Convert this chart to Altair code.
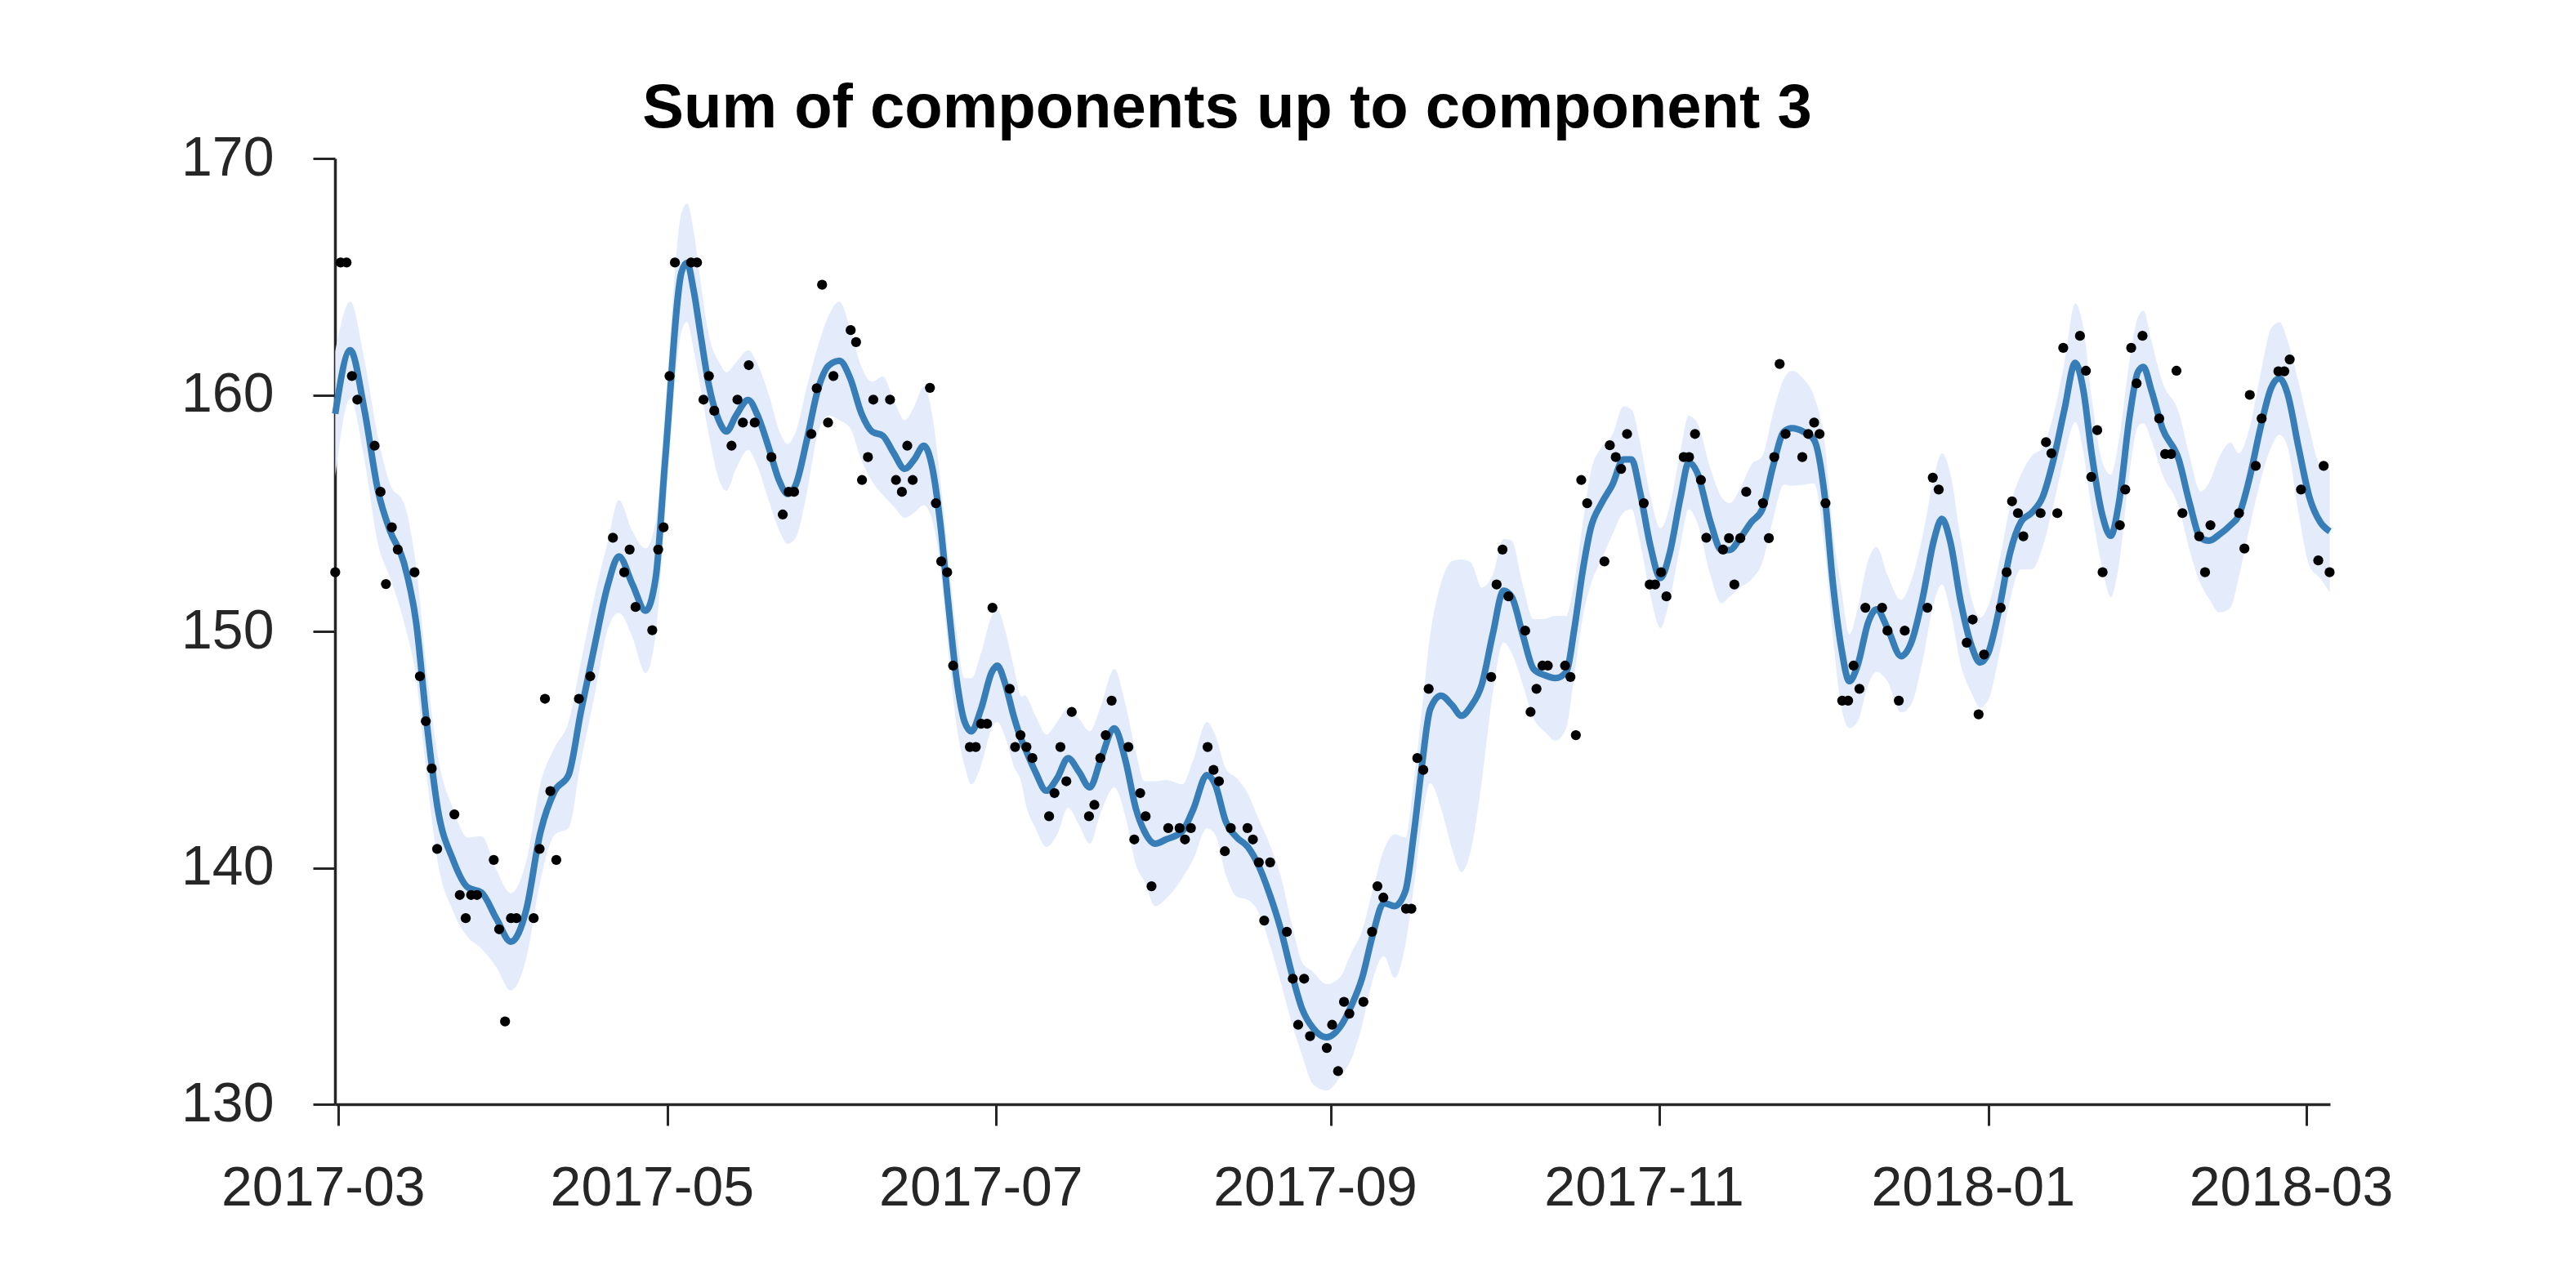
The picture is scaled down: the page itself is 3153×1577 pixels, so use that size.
import altair as alt
import numpy as np
import pandas as pd

BASE = pd.Timestamp("2017-03-01")

# Observations: day offset from 2017-03-01, value
pt_day = [-0.6, 0.4, 1.5, 2.5, 3.5, 6.7, 7.8, 8.8, 9.9, 11.0, 14.1, 15.1, 16.2, 17.3, 18.3,
          21.5, 22.5, 23.6, 24.6, 25.7, 28.8, 29.8, 30.9, 32.0, 33.0, 36.2, 37.3, 38.3, 39.3, 40.4,
          44.6, 46.7, 50.9, 53.0, 54.0, 55.1, 58.2, 59.3, 60.3, 61.4, 62.4,
          65.4, 66.5, 67.7, 68.7, 69.7, 72.9, 74.0, 75.0, 76.1, 77.2, 80.3, 82.4, 83.5, 84.5,
          87.7, 88.7, 89.7, 90.8, 91.8, 95.0, 96.0, 97.1, 98.2, 99.2, 102.3, 103.4, 104.5, 105.5,
          106.5, 109.7, 110.8, 111.8, 112.9, 114.0, 117.1, 118.2, 119.2, 120.3, 121.3, 124.5,
          125.5, 126.5,
          127.6, 128.7, 131.8, 132.8, 133.9, 135.0, 136.0, 139.2, 140.2, 141.3, 142.3, 143.4,
          146.5, 147.6, 148.7, 149.7, 150.8, 153.9, 156.0, 157.0, 158.1, 161.2, 162.3, 163.3,
          164.4, 165.5, 168.6, 169.6, 170.7, 171.7, 172.8, 175.9, 177.0, 178.0, 179.1, 180.2,
          183.3, 184.3, 185.4, 186.5, 187.5, 190.1,
          191.7, 192.7, 193.8, 198.0, 199.0, 200.1, 201.2, 202.2, 213.8, 214.8, 215.9, 217.0,
          220.1, 221.1, 222.2, 223.3, 224.3, 227.5, 228.5, 229.5, 230.5, 231.6, 234.8, 235.8,
          236.9, 237.9, 239.0, 242.1, 243.2, 244.2, 245.3, 246.3, 249.5, 250.5, 251.6, 252.7,
          253.7,
          256.8, 257.9, 258.9, 260.0, 261.1, 264.2, 265.3, 266.3, 267.3, 268.4, 271.5, 272.6,
          273.7, 274.7, 275.8, 278.9, 280.0, 281.0, 282.1, 283.2, 286.3, 287.3, 289.4, 290.5,
          294.7, 295.7, 296.8, 302.0, 303.1, 304.2, 305.2, 308.3, 309.4, 310.4, 311.5, 312.5,
          315.7, 316.7,
          317.7, 318.8, 319.9, 323.0, 324.1, 325.1, 326.2, 327.2, 330.4, 331.4, 332.5, 333.5,
          334.6, 337.7, 338.8, 339.9, 340.9, 342.0, 345.1, 346.2, 347.2, 352.5, 353.5, 354.5,
          355.6, 356.7, 359.8, 360.9, 361.9, 364.0, 367.2, 368.2, 369.3]
pt_val = [152.5, 165.6, 165.6, 160.8, 159.8, 157.85, 155.9, 152.0, 154.4, 153.46, 152.5, 148.1,
          146.2, 144.2, 140.8,
          142.26, 138.85, 137.87, 138.85, 138.85, 140.33, 137.4, 133.5, 137.87, 137.87, 137.87,
          140.8, 147.15, 143.24, 140.33,
          147.15, 148.1, 153.96, 152.5, 153.46, 151.03, 150.05, 153.46, 154.4, 160.8, 165.6,
          165.6, 165.6, 159.8, 160.8, 159.33, 157.85, 159.8, 158.83, 161.26, 158.83, 157.37,
          154.94, 155.9, 155.9,
          158.35, 160.28, 164.66, 158.83, 160.8, 162.74, 162.23, 156.4, 157.37, 159.8, 159.8,
          156.4, 155.9, 157.85,
          156.4, 160.3, 155.42, 152.96, 152.5, 148.55, 145.11, 145.11, 146.09, 146.09, 151.0,
          147.57, 145.11, 145.61,
          145.11, 144.64, 142.18, 143.16, 145.11, 143.66, 146.59, 142.18, 142.66, 144.64, 145.61,
          147.07,
          145.11, 141.2, 143.16, 142.18, 139.22, 141.68, 141.68, 141.2, 141.68, 145.11, 144.14,
          143.66,
          140.7, 141.68, 141.68, 141.2, 140.23, 137.77, 140.23, 137.29, 135.31, 133.36, 135.31,
          132.88,
          132.38, 133.36, 131.4, 134.33, 133.83, 134.33,
          137.29, 139.22, 138.74, 138.27, 138.27, 144.64, 144.14, 147.57, 148.07, 151.98, 153.46,
          151.48,
          150.03, 146.59, 147.57, 148.55, 148.55, 148.55, 148.07, 145.61, 156.4, 155.42, 152.96,
          157.87,
          157.37, 156.87, 158.35, 155.42, 151.98, 151.98, 152.5, 151.48, 157.37, 157.37, 158.35,
          156.4,
          153.96,
          153.46, 153.94, 151.98, 153.94, 155.9, 155.42, 153.94, 157.37, 161.31, 158.35, 157.37,
          158.35,
          158.83, 158.35, 155.42, 147.07, 147.07, 148.55, 147.57, 151.0, 151.0, 150.03, 147.07,
          150.03,
          151.0, 156.5, 156.0, 149.52, 150.5, 146.49, 149.02, 151.0, 152.5, 155.5, 155.0, 154.02,
          155.0, 158.0,
          157.53, 155.0, 161.99, 162.5, 161.02, 156.53, 158.51, 152.5, 154.49, 156.0, 161.99,
          160.49,
          162.5, 159.0, 157.5, 157.5, 161.02, 155.0, 154.02, 152.5, 154.49, 155.0, 153.5, 160.0,
          157.0, 159.0, 161.0, 161.0, 161.5, 156.0, 153.0, 157.0, 152.5]

# Fitted sum of components: day offset, mean, half-width of the band
line_day = [-0.6, 2.18, 4.80, 7.33, 9.60, 12.13, 14.39, 16.41, 18.43, 21.21, 23.99, 26.51,
            29.29, 31.97, 34.84, 37.37, 40.14, 42.67, 44.94, 47.46, 49.99, 52.0, 54.54, 56.96,
            58.83, 60.6,
            63.62, 64.63, 65.89, 67.16, 68.67, 70.69, 71.95, 73.72, 75.99, 77.76, 79.78, 81.8,
            83.31, 84.83, 86.84, 88.86, 90.88, 92.9, 94.92, 96.94, 98.96, 100.98, 103.0, 105.02,
            106.79, 108.56, 110.07, 111.59, 113.1, 114.62, 116.13, 117.39, 119.16, 121.18,
            122.19, 123.7, 125.22, 126.74,
            127.24, 129.26, 131.28, 133.3, 135.32, 137.34, 139.36, 141.38, 143.9, 145.92, 147.94,
            149.46, 151.48, 153.5, 156.52, 158.54, 161.07, 162.58, 164.6, 166.62, 168.64,
            170.66, 172.68, 174.71, 176.73, 178.75, 180.76, 183.29, 185.81, 187.83,
            189.85, 191.86, 193.88, 195.9, 197.92, 199.44, 200.95, 202.47, 204.49, 206.51,
            208.28, 210.04, 212.06, 214.08, 216.1, 217.62, 219.64, 221.65, 223.67, 225.69,
            227.71, 229.23, 230.74, 232.26, 234.28, 236.3, 238.32, 239.84, 241.35, 243.37,
            245.18, 246.9, 248.92, 250.43, 251.95,
            254.47, 256.49, 258.01, 260.03, 262.05, 264.06, 266.09, 268.11, 269.62, 271.64,
            273.66, 275.68, 277.2, 278.71, 280.23, 281.74, 283.76, 285.28, 287.3, 289.82,
            291.84, 293.86, 295.88, 297.4, 298.91, 300.93, 302.95, 304.47, 305.98, 308.0,
            310.02, 312.04, 314.06, 316.08,
            318.1, 320.12, 322.13, 323.65, 325.16, 327.18, 328.7, 330.21, 332.23, 333.75,
            334.76, 336.27, 338.29, 341.32, 343.34, 345.36, 346.87, 348.89, 350.91, 352.43,
            354.44, 356.46, 358.48, 360.0, 361.51, 363.53, 365.55, 367.57, 369.34]
line_mean = [159.2, 161.89, 159.38, 155.95, 154.23, 152.91, 150.40, 146.04, 142.47, 140.36,
             139.17, 138.96, 137.85, 136.87, 138.24, 141.41, 143.26, 143.92, 146.57, 149.34,
             151.98, 153.17, 151.98, 150.87, 152.25, 157.27,
             165.19, 165.59, 164.40, 162.55, 160.44, 158.85, 158.45, 159.12, 159.78, 159.12,
             157.79, 156.34, 155.81, 156.21, 158.06, 160.17, 161.23, 161.44, 160.70, 159.25,
             158.45, 158.27, 157.53, 156.87, 157.27, 157.85, 157.0, 154.62, 151.19, 148.02,
             146.17, 145.77, 146.70, 148.28, 148.55, 147.75, 146.43, 145.37,
             145.11, 144.06, 143.26, 143.79, 144.64, 144.06, 143.40, 144.58, 145.90, 144.58,
             142.47, 141.55, 141.02, 141.20, 141.55, 142.47, 143.92, 143.53, 141.94, 141.28,
             140.89, 140.09, 138.90, 137.45, 135.60, 134.02, 133.22, 132.83, 133.28, 134.15,
             135.33, 137.19, 138.51, 138.38, 139.04, 141.42, 144.32, 146.70, 147.28, 146.89,
             146.43, 146.83, 147.75, 149.87, 151.72, 151.45, 149.87, 148.41, 148.15, 148.02,
             148.28, 150.13, 152.51, 154.36, 155.42, 156.21, 157.27, 157.27, 155.95, 153.57,
             152.25, 153.30, 155.68, 157.14, 156.74,
             154.62, 153.44, 153.44, 153.96, 154.62, 155.15, 157.0, 158.45, 158.59, 158.45,
             158.11, 155.68, 151.98, 149.34, 147.89, 148.55, 150.40, 150.93, 150.13, 148.95,
             149.61, 151.45, 153.83, 154.76, 153.83, 151.19, 149.34, 148.68, 149.08, 150.93,
             153.30, 154.62, 155.02, 155.68,
             157.27, 159.38, 161.36, 160.17, 157.53, 154.89, 154.04, 155.42, 159.12, 160.97,
             161.18, 160.17, 158.59, 157.27, 155.42, 153.96, 153.83, 154.10, 154.49, 154.89,
             156.47, 158.59, 160.31, 160.70, 160.04, 157.79, 155.68, 154.62, 154.23]
line_halfwidth = [2.64, 2.06, 2.11, 2.25, 1.98, 2.51, 2.38, 2.25, 2.25, 2.17, 2.11, 2.38, 2.06,
                  2.06, 2.06, 2.06, 1.85, 2.25, 2.11, 2.11, 1.85, 2.38, 2.25, 2.64, 2.38, 2.25,
                  2.51, 2.51, 2.51, 2.25, 2.11, 2.51, 2.51, 2.25, 2.11, 2.17, 2.25, 2.11, 2.11,
                  2.25, 2.25, 1.85, 2.11, 2.51, 2.11, 1.98, 2.11, 2.51, 2.25, 2.06, 2.25, 2.51,
                  2.25, 1.85, 1.98, 1.98, 1.85, 2.25, 2.38, 2.38, 2.38, 2.25, 2.11, 1.85,
                  2.19, 2.38, 2.38, 2.38, 2.11, 2.25, 2.38, 2.25, 2.51, 2.38, 2.38, 2.11, 2.64,
                  2.51, 1.98, 2.11, 2.25, 2.11, 2.25, 2.51, 2.25, 1.98, 2.11, 2.25, 2.11, 1.98,
                  2.38, 2.25, 2.11, 2.25,
                  2.0, 1.9, 2.25, 3.04, 2.25, 2.25, 2.38, 3.12, 4.76, 6.08, 6.61, 6.08, 4.10,
                  2.51, 2.19, 2.38, 2.11, 2.11, 2.38, 2.64, 2.38, 1.98, 1.98, 2.38, 2.38, 2.11,
                  2.25, 2.11, 2.11, 2.11, 2.11, 1.98, 1.98, 1.98, 2.11,
                  2.25, 2.25, 1.98, 2.11, 2.43, 2.25, 2.25, 2.25, 2.43, 2.25, 1.85, 2.25, 2.25,
                  2.51, 1.98, 2.38, 2.64, 2.64, 2.25, 2.38, 2.64, 2.64, 2.64, 2.77, 2.9, 2.64,
                  1.98, 1.90, 2.0, 1.98, 1.98, 2.0, 2.4, 2.11,
                  1.9, 1.98, 2.51, 2.64, 2.38, 2.25, 2.59, 2.64, 2.38, 2.32, 2.38, 2.11, 1.95,
                  2.0, 2.0, 1.95, 2.43, 3.3, 3.5, 2.64, 2.11, 2.25, 2.51, 2.38, 2.25, 2.77, 2.9,
                  2.38, 2.59]

tick_labels = ["2017-03", "2017-05", "2017-07", "2017-09", "2017-11", "2018-01", "2018-03"]
y_ticks = [130, 140, 150, 160, 170]
y_domain = [130, 170]
title_text = "Sum of components up to component 3"


def to_dates(days):
    return BASE + pd.to_timedelta(np.asarray(days, dtype=float), unit="D")


def dt(ts):
    ts = pd.Timestamp(ts)
    return alt.DateTime(year=ts.year, month=ts.month, date=ts.day,
                        hours=ts.hour, minutes=ts.minute, seconds=ts.second)


points = pd.DataFrame({"date": to_dates(pt_day), "value": pt_val})
fit = pd.DataFrame({"date": to_dates(line_day), "mean": line_mean, "hw": line_halfwidth})
fit["lower"] = fit["mean"] - fit["hw"]
fit["upper"] = fit["mean"] + fit["hw"]

dmin = min(min(pt_day), min(line_day)) - 0.05
dmax = max(max(pt_day), max(line_day)) + 0.05
x_domain = [dt(to_dates([dmin])[0]), dt(to_dates([dmax])[0])]
x_ticks = [dt(pd.Timestamp(t + "-01")) for t in tick_labels]

AX = "#262626"
FONT = "Liberation Sans"

x_scale = alt.Scale(domain=x_domain, nice=False)
y_scale = alt.Scale(domain=y_domain, nice=False, zero=False)

x_axis = alt.Axis(values=x_ticks, format="%Y-%m", title=None, grid=False,
                  tickSize=26, tickWidth=3, tickColor=AX, domainColor=AX, domainWidth=3.5,
                  labelFont=FONT, labelFontSize=68, labelColor=AX, labelPadding=43,
                  labelFlush=False, labelOverlap=False, labelBound=False, labelOffset=-19,
                  labelLimit=2000)
y_axis = alt.Axis(values=y_ticks, title=None, grid=False,
                  tickSize=27, tickWidth=3, tickColor=AX, domainColor=AX, domainWidth=3.5,
                  labelFont=FONT, labelFontSize=68, labelColor=AX, labelPadding=48,
                  labelFlush=False, labelOverlap=False, labelLimit=2000)

band = alt.Chart(fit).mark_area(color="#e4ecfc", opacity=1, interpolate="monotone").encode(
    x=alt.X("date:T", scale=x_scale, axis=x_axis),
    y=alt.Y("lower:Q", scale=y_scale, axis=y_axis),
    y2="upper:Q",
)
line = alt.Chart(fit).mark_line(color="#377eb8", strokeWidth=8, interpolate="monotone").encode(
    x=alt.X("date:T", scale=x_scale),
    y=alt.Y("mean:Q", scale=y_scale),
)
dots = alt.Chart(points).mark_circle(color="black", size=150, opacity=1).encode(
    x=alt.X("date:T", scale=x_scale),
    y=alt.Y("value:Q", scale=y_scale),
)

chart = alt.layer(band, line, dots).properties(
    width=2442,
    height=1158,
    title=alt.TitleParams(title_text, font=FONT, fontSize=76, fontWeight="bold", color="black",
                          anchor="middle", dx=-129, dy=36, offset=24),
    padding={"left": 410, "top": 194, "right": 301, "bottom": 225},
    autosize=alt.AutoSizeParams(type="none"),
    background="white",
).configure_view(stroke=None)

chart.save("out.html", embed_options={"renderer": "svg", "actions": False})
